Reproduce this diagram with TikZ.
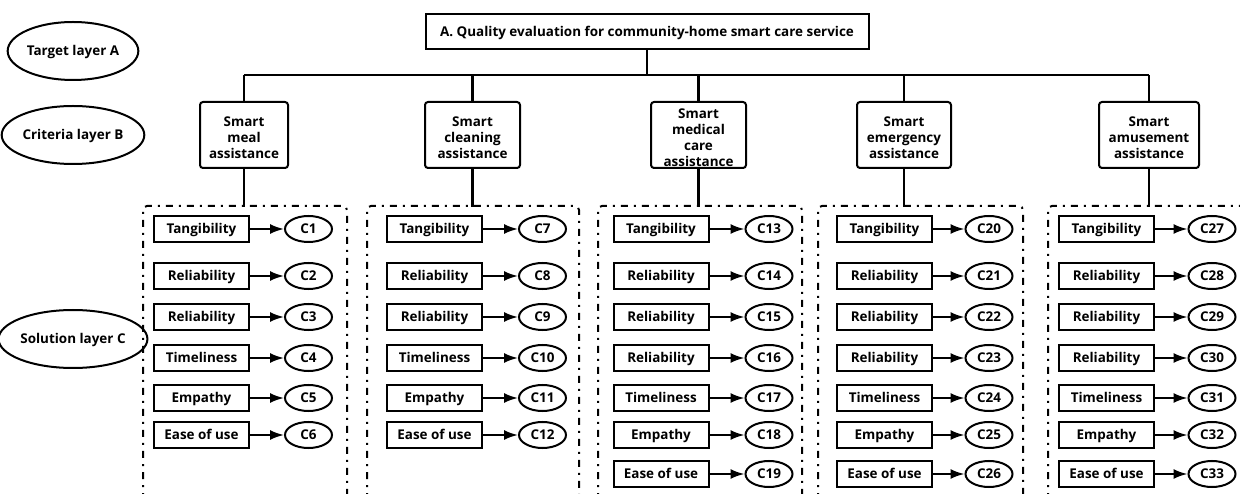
\documentclass[tikz,border=0pt]{standalone}
\usepackage{fontspec}
\setmainfont{Open Sans}
\usetikzlibrary{shapes.geometric,arrows.meta}

% raises the first line of the criteria boxes so the block sits a bit lower
\newcommand\critstrut{\rule{0pt}{14.5bp}}

\tikzset{
  lbl/.style={font=\bfseries\fontsize{13.5}{16}\selectfont},
  even/.style={text height=10.6bp, text depth=1.4bp},
  layer/.style={lbl, even, ellipse, draw, line width=2bp, inner sep=0pt,
                minimum width=118bp, minimum height=58bp},
  goalbox/.style={lbl, even, draw, line width=2bp, minimum width=443bp, minimum height=35bp},
  critbox/.style={lbl, draw, line width=2bp, rounded corners=3bp, align=center,
                  inner sep=0pt, minimum height=66bp},
  itembox/.style={lbl, even, draw, line width=2bp, inner sep=0pt,
                  minimum width=95bp, minimum height=26bp},
  cnode/.style={lbl, even, ellipse, draw, line width=2bp, inner sep=0pt,
                minimum width=47bp, minimum height=26bp},
  link/.style={line width=2bp, -{Latex[length=14bp,width=10bp]}},
  wire/.style={line width=2.1bp},
  group/.style={line width=2bp, rounded corners=4bp,
                dash pattern=on 7bp off 6bp on 2bp off 6bp},
}

\begin{document}
\begin{tikzpicture}[x=1bp,y=-1bp]
\useasboundingbox (0,0) rectangle (1240,494);
\clip (0,0) rectangle (1240,494);

% layer labels
\node[layer] (la) at (73,51) {Target layer A};
\node[layer] (lb) at (73,135) {Criteria layer B};
\node[layer, minimum width=128bp] (lc) at (73,339) {Solution layer C};

% target
\node[goalbox] (goal) at (647,31.5) {A. Quality evaluation for community-home smart care service};
\coordinate (bus) at (647,75);

% criteria
\node[critbox, minimum width=88bp]  (b1) at (244,135)   {\critstrut Smart\\meal\\assistance};
\node[critbox, minimum width=95bp]  (b2) at (472.5,135) {\critstrut Smart\\cleaning\\assistance};
\node[critbox, minimum width=95bp]  (b3) at (698.5,135) {\critstrut Smart\\medical\\care\\assistance};
\node[critbox, minimum width=94bp]  (b4) at (904,135)   {\critstrut Smart\\emergency\\assistance};
\node[critbox, minimum width=100bp] (b5) at (1149,135)  {\critstrut Smart\\amusement\\assistance};

% tree wiring
\draw[wire] (goal.south) -- (bus);
\draw[wire] (b1.north |- bus) -- (b5.north |- bus);
\foreach \i in {1,...,5} {
  \draw[wire] (b\i.north) -- (b\i.north |- bus);
  \draw[wire] (b\i.south) -- ([yshift=-38bp]b\i.south);
}

% dash-dot groups
\draw[group] (143,500) -- (143,206) -- (347,206) -- (347,500);
\draw[group] (367,500) -- (367,206) -- (579,206) -- (579,500);
\draw[group] (598,500) -- (598,206) -- (802,206) -- (802,500);
\draw[group] (818,500) -- (818,206) -- (1023,206) -- (1023,500);
\draw[group] (1048,500) -- (1048,206) -- (1260,206);

% solution items: column / box x / ellipse x / first C number / labels
\def\ys{{229,276,317,358,398,435,474}}
\foreach \col/\bx/\cx/\first/\items in {
    1/201.5/308.5/1/{Tangibility,Reliability,Reliability,Timeliness,Empathy,Ease of use},
    2/434.5/542.5/7/{Tangibility,Reliability,Reliability,Timeliness,Empathy,Ease of use},
    3/661/769/13/{Tangibility,Reliability,Reliability,Reliability,Timeliness,Empathy,Ease of use},
    4/884.5/989/20/{Tangibility,Reliability,Reliability,Reliability,Timeliness,Empathy,Ease of use},
    5/1106.5/1212/27/{Tangibility,Reliability,Reliability,Reliability,Timeliness,Empathy,Ease of use}} {
  \foreach \txt [count=\r from 0] in \items {
    \pgfmathsetmacro{\yy}{\ys[\r]}
    \pgfmathtruncatemacro{\num}{\first+\r}
    \node[itembox] (s\col-\r) at (\bx,\yy) {\txt};
    \node[cnode] (c\num) at (\cx,\yy) {C\num};
    \draw[link] (s\col-\r.east) -- (c\num.west);
  }
}
\end{tikzpicture}
\end{document}
